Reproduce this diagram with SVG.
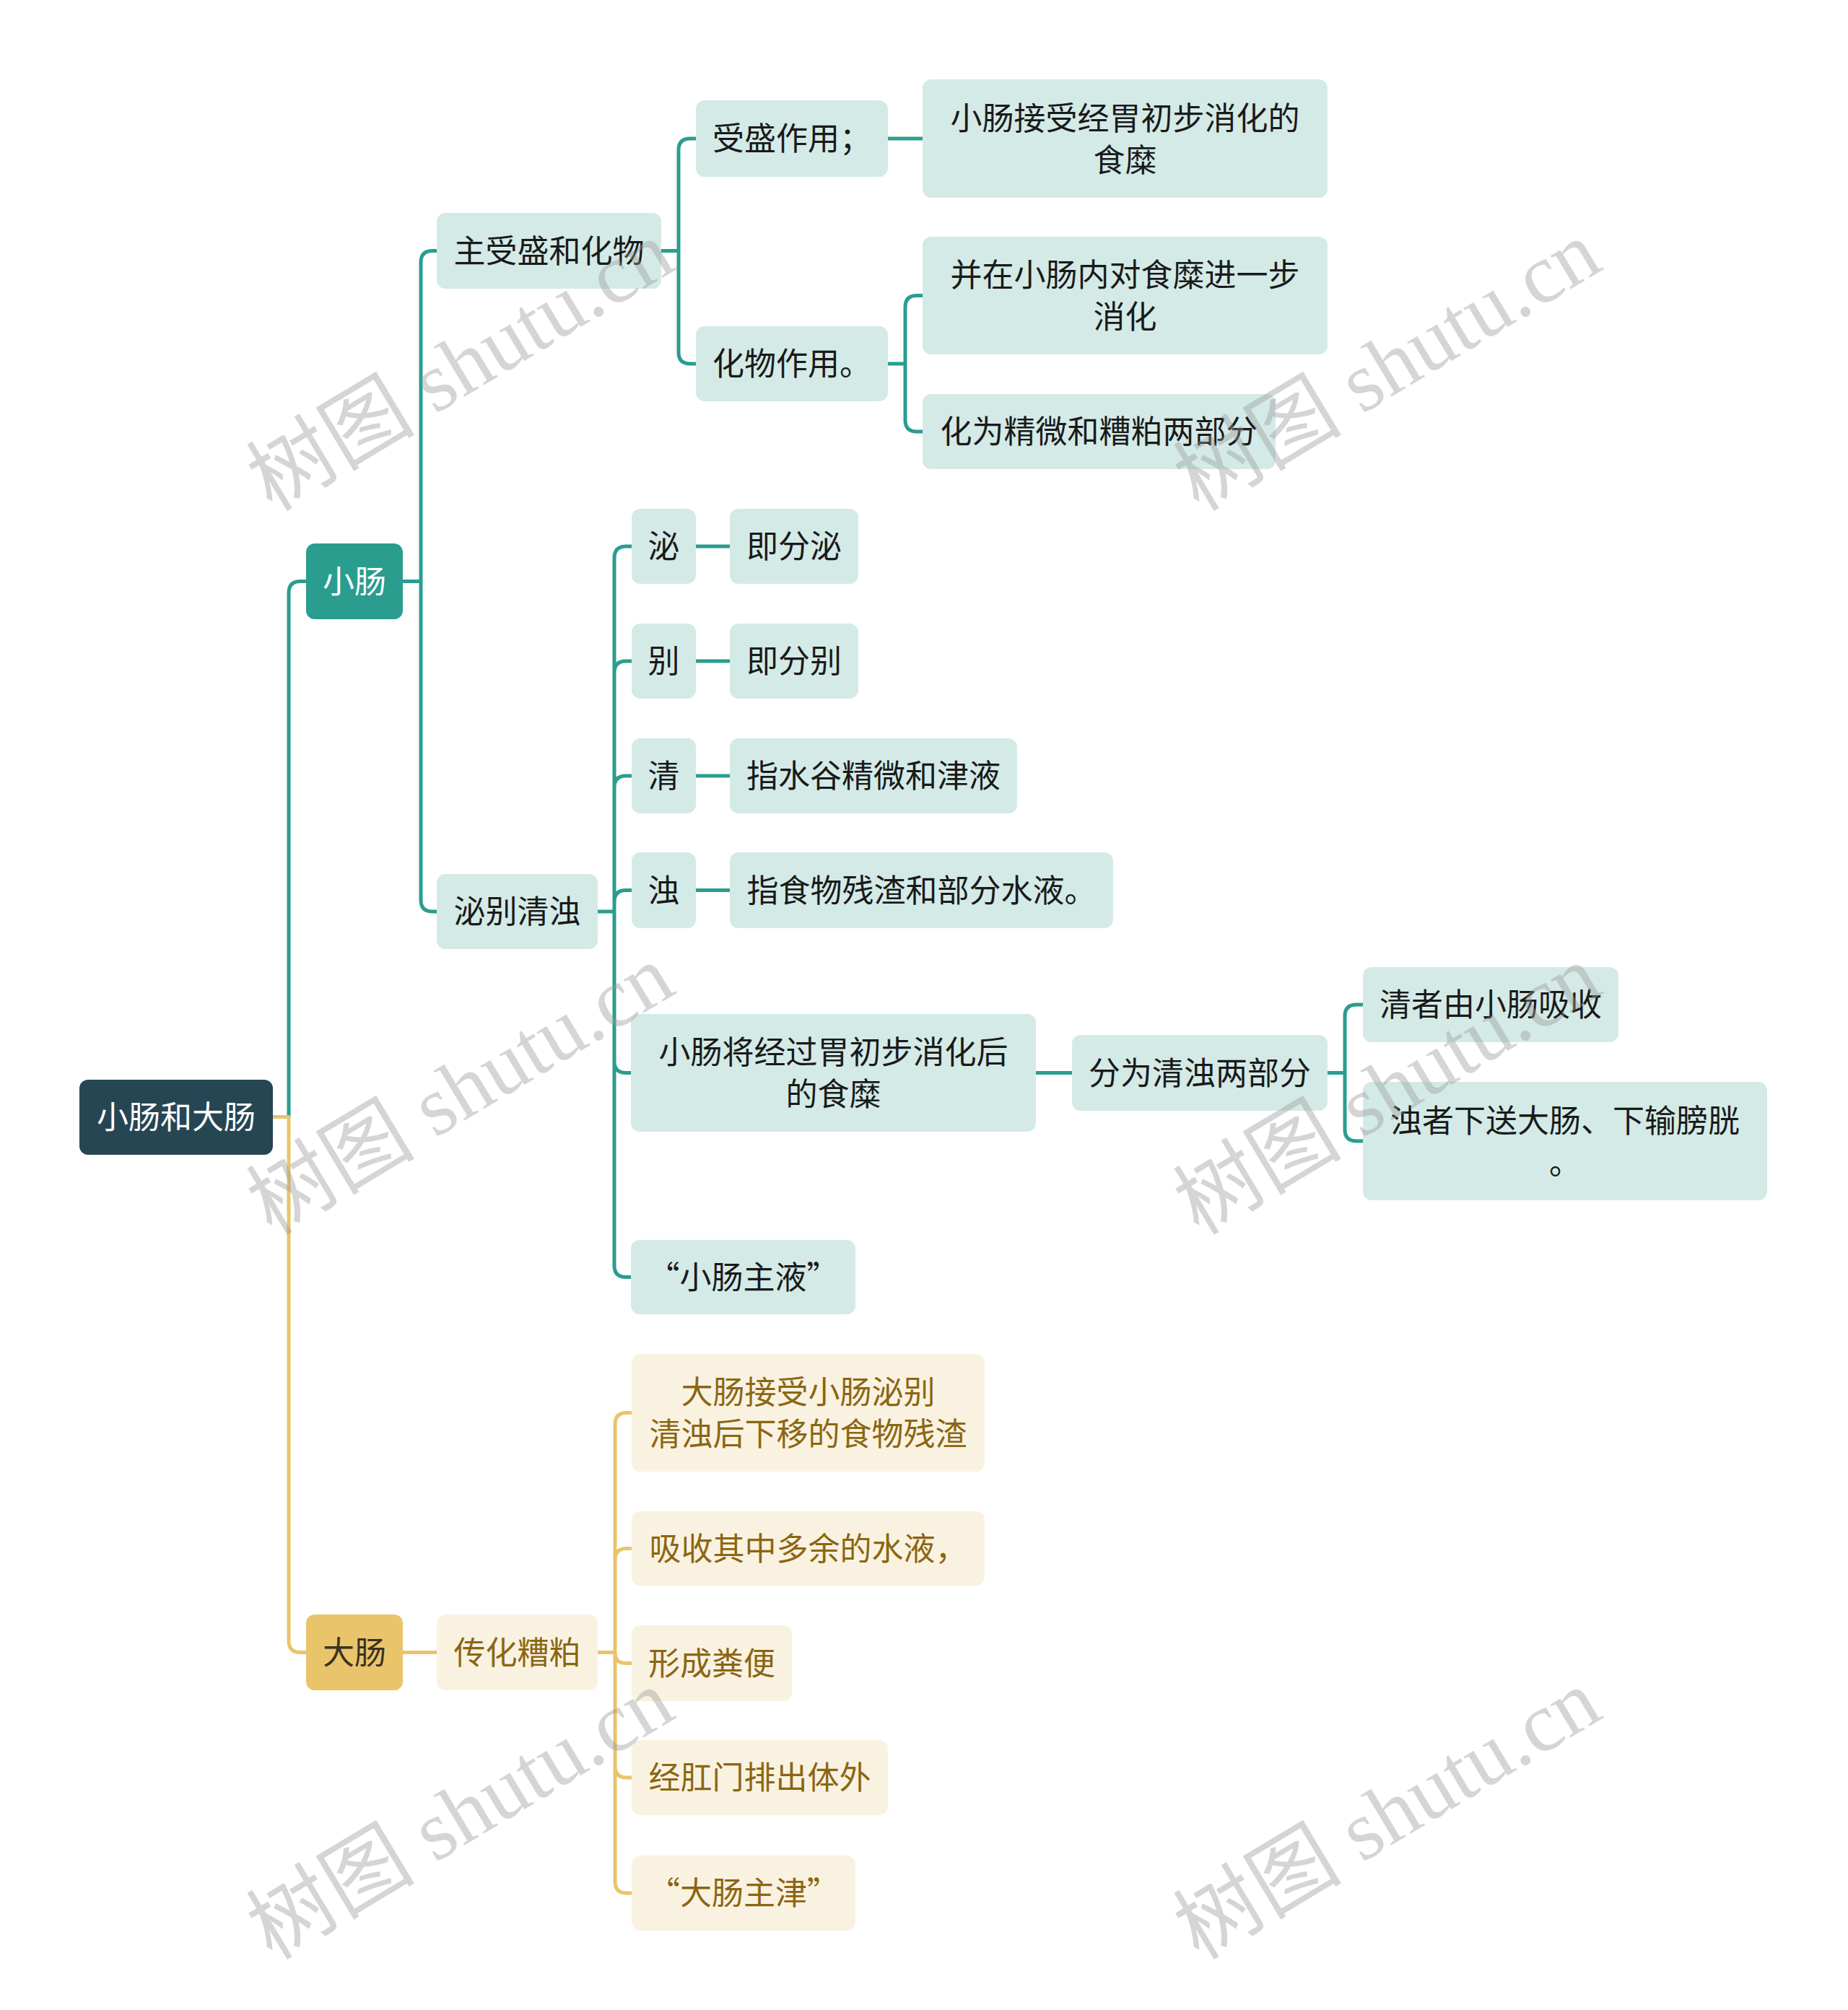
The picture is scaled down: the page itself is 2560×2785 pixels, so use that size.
<svg xmlns="http://www.w3.org/2000/svg" width="2560" height="2785" viewBox="0 0 2560 2785">
<style>
text{font-family:"Noto Sans CJK SC","Noto Sans",sans-serif;font-size:44px;text-anchor:middle}
.lt rect{fill:#d4eae7}
.lt text{fill:#1a1a1a}
.ly rect{fill:#faf2e1}
.ly text{fill:#8b6612}
.c path{fill:none;stroke-width:5;stroke-linecap:round}
.ct path{stroke:#2a9d8f}
.cy path{stroke:#e9c46a}
.wm text{font-family:"Liberation Serif","Noto Sans CJK SC",serif;font-size:117px;fill:#999;opacity:.4;text-anchor:middle}
</style>
<rect width="2560" height="2785" fill="#fff"/>
<g id="connectors" class="c">
<g class="ct">
<path d="M400,1547.5 V821.5 Q400,805.5 416,805.5 H424"/>
<path d="M558,805.5 H583 M583,805.5 V363.5 Q583,347.5 599,347.5 H605 M583,805.5 V1247 Q583,1263 599,1263 H605"/>
<path d="M916,347.5 H940 M940,347.5 V208 Q940,192 956,192 H964 M940,347.5 V488 Q940,504 956,504 H964"/>
<path d="M1230,192 H1278"/>
<path d="M1230,504 H1254 M1254,504 V425.5 Q1254,409.5 1270,409.5 H1278 M1254,504 V582 Q1254,598 1270,598 H1278"/>
<path d="M828,1263 H851 M851,1263 V773 Q851,757 867,757 H875 M851,1263 V932 Q851,916 867,916 H875 M851,1263 V1091 Q851,1075 867,1075 H875 M851,1263 V1249.5 Q851,1233.5 867,1233.5 H875 M851,1263 V1470.5 Q851,1486.5 867,1486.5 H874 M851,1263 V1753.5 Q851,1769.5 867,1769.5 H874"/>
<path d="M964,757 H1011 M964,916 H1011 M964,1075 H1011 M964,1233.5 H1011"/>
<path d="M1435,1486.5 H1485"/>
<path d="M1839,1486.5 H1863 M1863,1486.5 V1408 Q1863,1392 1879,1392 H1888 M1863,1486.5 V1565 Q1863,1581 1879,1581 H1888"/>
</g>
<g class="cy">
<path d="M378,1547.5 H400 M400,1547.5 V2273.5 Q400,2289.5 416,2289.5 H424"/>
<path d="M558,2289.5 H605"/>
<path d="M828,2289.5 H852 M852,2289.5 V1973.5 Q852,1957.5 868,1957.5 H875 M852,2289.5 V2161.5 Q852,2145.5 868,2145.5 H875 M852,2289.5 Q852,2304.5 867,2304.5 H875 M852,2289.5 V2447 Q852,2463 868,2463 H875 M852,2289.5 V2607 Q852,2623 868,2623 H875"/>
</g>
</g>
<g id="root"><rect x="110" y="1496" width="268" height="104" rx="12" fill="#264653"/><text x="244" y="1564" fill="#fff">小肠和大肠</text></g>
<g id="xiaochang"><rect x="424" y="753" width="134" height="105" rx="12" fill="#2a9d8f"/><text x="491" y="821.5" fill="#fff">小肠</text></g>
<g id="dachang"><rect x="424" y="2237" width="134" height="105" rx="12" fill="#e9c46a"/><text x="491" y="2305.5" fill="#3a3220">大肠</text></g>
<g id="n_zhushou" class="lt"><rect x="605" y="295" width="311" height="105" rx="12"/><text x="760.5" y="363.5">主受盛和化物</text></g>
<g id="n_mibie" class="lt"><rect x="605" y="1211" width="223" height="104" rx="12"/><text x="716.5" y="1279">泌别清浊</text></g>
<g id="n_shousheng" class="lt"><rect x="964" y="139" width="266" height="106" rx="12"/><text x="1097" y="208">受盛作用；</text></g>
<g id="n_jieshou" class="lt"><rect x="1278" y="110" width="561" height="164" rx="12"/><text x="1558.5" y="180">小肠接受经胃初步消化的</text><text x="1558.5" y="238">食糜</text></g>
<g id="n_huawu" class="lt"><rect x="964" y="452" width="266" height="104" rx="12"/><text x="1097" y="520">化物作用。</text></g>
<g id="n_bingzai" class="lt"><rect x="1278" y="328" width="561" height="163" rx="12"/><text x="1558.5" y="397">并在小肠内对食糜进一步</text><text x="1558.5" y="455">消化</text></g>
<g id="n_huawei" class="lt"><rect x="1278" y="546" width="489" height="104" rx="12"/><text x="1522.5" y="614">化为精微和糟粕两部分</text></g>
<g id="n_mi" class="lt"><rect x="875" y="705" width="89" height="104" rx="12"/><text x="919.5" y="773">泌</text></g>
<g id="n_jifenmi" class="lt"><rect x="1011" y="705" width="178" height="104" rx="12"/><text x="1100" y="773">即分泌</text></g>
<g id="n_bie" class="lt"><rect x="875" y="864" width="89" height="104" rx="12"/><text x="919.5" y="932">别</text></g>
<g id="n_jifenbie" class="lt"><rect x="1011" y="864" width="178" height="104" rx="12"/><text x="1100" y="932">即分别</text></g>
<g id="n_qing" class="lt"><rect x="875" y="1023" width="89" height="104" rx="12"/><text x="919.5" y="1091">清</text></g>
<g id="n_zhishui" class="lt"><rect x="1011" y="1023" width="398" height="104" rx="12"/><text x="1210" y="1091">指水谷精微和津液</text></g>
<g id="n_zhuo" class="lt"><rect x="875" y="1181" width="89" height="105" rx="12"/><text x="919.5" y="1249.5">浊</text></g>
<g id="n_zhishi" class="lt"><rect x="1011" y="1181" width="531" height="105" rx="12"/><text x="1276.5" y="1249.5">指食物残渣和部分水液。</text></g>
<g id="n_xiaojiang" class="lt"><rect x="874" y="1405" width="561" height="163" rx="12"/><text x="1154.5" y="1474">小肠将经过胃初步消化后</text><text x="1154.5" y="1532">的食糜</text></g>
<g id="n_fenwei" class="lt"><rect x="1485" y="1434" width="354" height="105" rx="12"/><text x="1662" y="1502.5">分为清浊两部分</text></g>
<g id="n_qingzhe" class="lt"><rect x="1888" y="1340" width="354" height="104" rx="12"/><text x="2065" y="1408">清者由小肠吸收</text></g>
<g id="n_zhuozhe" class="lt"><rect x="1888" y="1499" width="560" height="164" rx="12"/><text x="2168" y="1569">浊者下送大肠、下输膀胱</text><text x="2168" y="1627">。</text></g>
<g id="n_zhuye" class="lt"><rect x="874" y="1718" width="311" height="103" rx="12"/><text x="1029.5" y="1785.5">“小肠主液”</text></g>
<g id="n_chuanhua" class="ly"><rect x="605" y="2237" width="223" height="105" rx="12"/><text x="716.5" y="2305.5">传化糟粕</text></g>
<g id="n_dajieshou" class="ly"><rect x="875" y="1876" width="489" height="163" rx="12"/><text x="1119.5" y="1945">大肠接受小肠泌别</text><text x="1119.5" y="2003">清浊后下移的食物残渣</text></g>
<g id="n_xishou" class="ly"><rect x="875" y="2094" width="489" height="103" rx="12"/><text x="1119.5" y="2161.5">吸收其中多余的水液，</text></g>
<g id="n_xingcheng" class="ly"><rect x="875" y="2252" width="222" height="105" rx="12"/><text x="986" y="2320.5">形成粪便</text></g>
<g id="n_jinggang" class="ly"><rect x="875" y="2411" width="355" height="104" rx="12"/><text x="1052.5" y="2479">经肛门排出体外</text></g>
<g id="n_zhujin" class="ly"><rect x="875" y="2571" width="310" height="104" rx="12"/><text x="1030" y="2639">“大肠主津”</text></g>
<g id="watermarks" class="wm">
<text transform="translate(658,541) rotate(-31)">树图 shutu.cn</text>
<text transform="translate(1942,541) rotate(-31)">树图 shutu.cn</text>
<text transform="translate(658,1544) rotate(-31)">树图 shutu.cn</text>
<text transform="translate(1942,1544) rotate(-31)">树图 shutu.cn</text>
<text transform="translate(658,2548) rotate(-31)">树图 shutu.cn</text>
<text transform="translate(1942,2548) rotate(-31)">树图 shutu.cn</text>
</g>
</svg>
